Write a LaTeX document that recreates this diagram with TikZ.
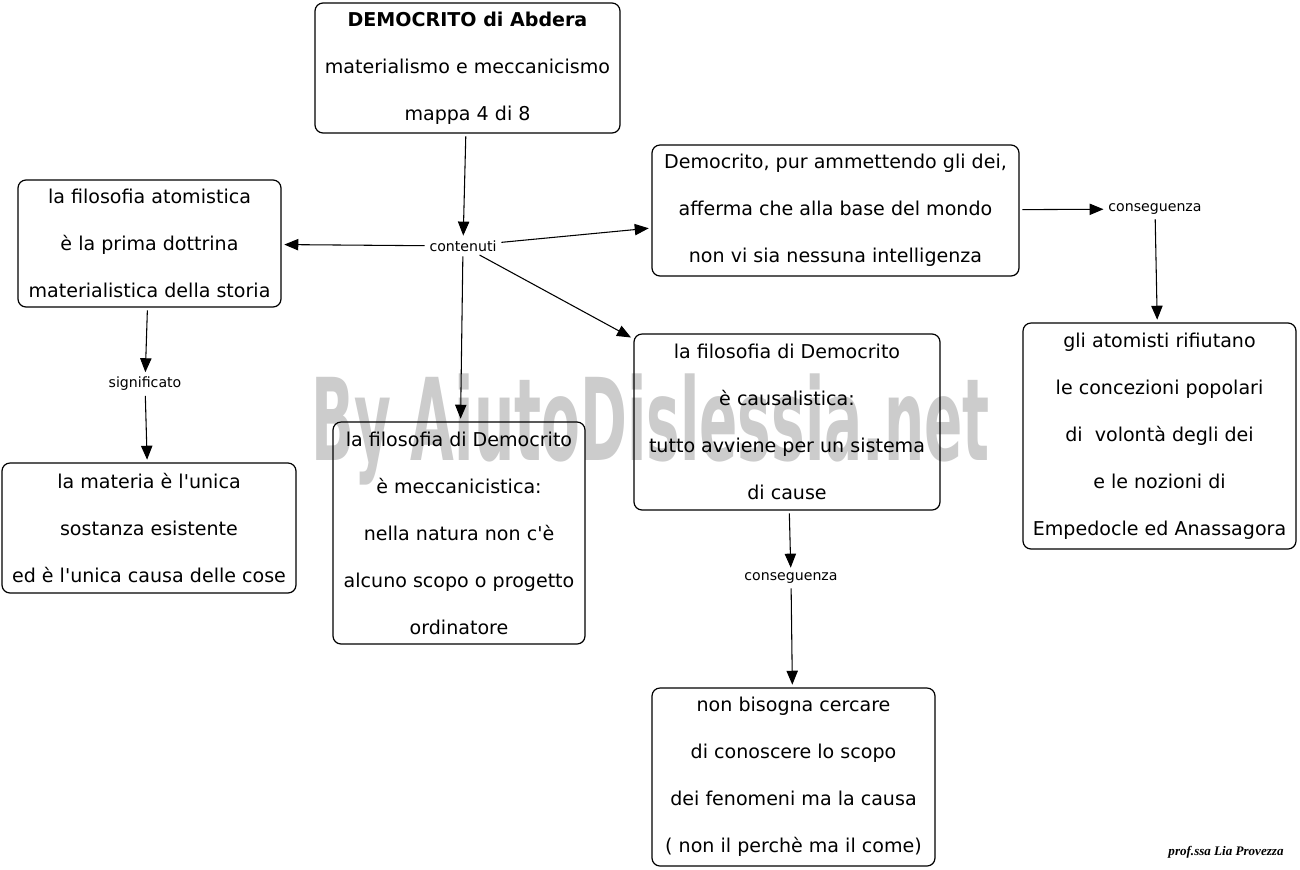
\documentclass[tikz,border=0pt]{standalone}
\usepackage{fontspec}
\usepackage{graphicx}
\setmainfont{DejaVu Sans}
\newfontfamily\sigfont{Liberation Serif}
\usetikzlibrary{arrows.meta}
\tikzset{
  mbox/.style={draw=black, line width=0.9pt, rounded corners=6pt, align=center, inner sep=0pt,
    font=\fontsize{14.3pt}{35.25pt}\selectfont},
  lbl/.style={inner sep=1.5pt, font=\fontsize{10.6pt}{12pt}\selectfont},
  conn/.style={line width=0.8pt, -{Triangle[length=10.5pt,width=8.5pt]}, shorten >=2pt, shorten <=2pt}
}
\begin{document}
\begin{tikzpicture}[x=0.75pt,y=-0.75pt]
\fill[white] (0,0) rectangle (1300,869);
\useasboundingbox (0,0) rectangle (1300,869);
% watermark
\node[anchor=base west, inner sep=0pt, text=black!20] (wm) at (311,460)
  {\resizebox{509pt}{65pt}{\bfseries By AiutoDislessia.net}};
% boxes
\node[mbox, minimum width=228.75pt, minimum height=97.5pt] (top) at (467.5,68)
  {\textbf{DEMOCRITO di Abdera}\\materialismo e meccanicismo\\mappa 4 di 8};
\node[mbox, minimum width=197.25pt, minimum height=95.25pt] (atom) at (149.5,243.5)
  {la filosofia atomistica\\è la prima dottrina\\materialistica della storia};
\node[mbox, minimum width=275.25pt, minimum height=98.25pt] (dei) at (835.5,210.5)
  {Democrito, pur ammettendo gli dei,\\afferma che alla base del mondo\\non vi sia nessuna intelligenza};
\node[mbox, minimum width=204.75pt, minimum height=169.5pt] (atomisti) at (1159.5,436)
  {gli atomisti rifiutano\\le concezioni popolari\\di~ volontà degli dei\\e le nozioni di\\Empedocle ed Anassagora};
\node[mbox, minimum width=220.5pt, minimum height=97.5pt] (materia) at (149,528)
  {la materia è l\textquotesingle unica\\sostanza esistente\\ed è l\textquotesingle unica causa delle cose};
\node[mbox, minimum width=189pt, minimum height=166.5pt] (mecc) at (459,533)
  {la filosofia di Democrito\\è meccanicistica:\\nella natura non c\textquotesingle è\\alcuno scopo o progetto\\ordinatore};
\node[mbox, minimum width=229.5pt, minimum height=132pt] (causal) at (787,422)
  {la filosofia di Democrito\\è causalistica:\\tutto avviene per un sistema\\di cause};
\node[mbox, minimum width=212.25pt, minimum height=133.5pt] (nonbis) at (793.5,777)
  {non bisogna cercare\\di conoscere lo scopo\\dei fenomeni ma la causa\\( non il perchè ma il come)};
% labels
\node[lbl] (cont) at (463,246) {contenuti};
\node[lbl] (sign) at (145,384) {significato};
\node[lbl] (cons1) at (1155,209) {conseguenza};
\node[lbl] (cons2) at (791,578) {conseguenza};
% connectors
\draw[conn] (top) -- (cont);
\draw[conn] (cont) -- (atom);
\draw[conn] (cont) -- (dei);
\draw[conn] (cont) -- (causal);
\draw[conn] (cont) -- (mecc);
\draw[conn] (atom) -- (sign);
\draw[conn] (sign) -- (materia);
\draw[conn] (dei) -- (cons1);
\draw[conn] (cons1) -- (atomisti);
\draw[conn] (causal) -- (cons2);
\draw[conn] (cons2) -- (nonbis);
% signature
\node[inner sep=0pt, font=\sigfont\fontsize{9.8pt}{11pt}\selectfont\bfseries\itshape] (sig) at (1226,852) {prof.ssa Lia Provezza};
\end{tikzpicture}
\end{document}
